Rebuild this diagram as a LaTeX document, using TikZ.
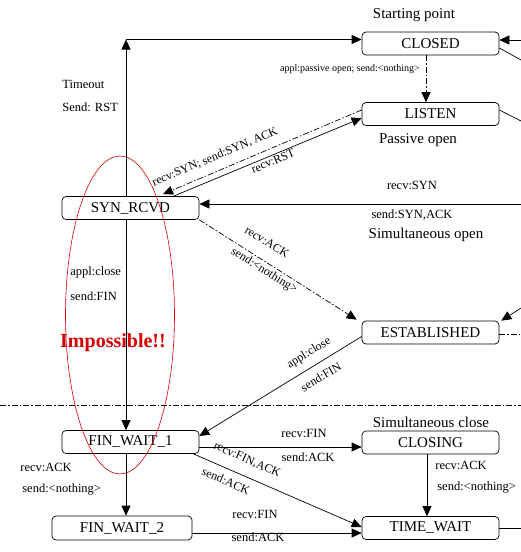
\documentclass[tikz,border=0pt]{standalone}
\usepackage{fontspec}
\setmainfont{Liberation Serif}
\usetikzlibrary{arrows.meta,calc}
\definecolor{impred}{RGB}{215,0,0}
\tikzset{
  state/.style={draw, rounded corners=4pt, minimum width=137pt, minimum height=23pt, inner sep=0pt, font=\fontsize{15}{15}\selectfont},
  lbl/.style={inner sep=0pt, font=\fontsize{12.5}{12.5}\selectfont},
  rlbl/.style={inner sep=0pt, font=\fontsize{12}{12}\selectfont},
  big/.style={inner sep=0pt, font=\fontsize{15}{15}\selectfont},
  arr/.style={-{Triangle[length=10pt,width=9pt]}},
  dd/.style={dash pattern=on 6pt off 2pt on 1.5pt off 2pt},
}
\begin{document}
\begin{tikzpicture}[x=1pt,y=-1pt,line width=0.7pt]
\useasboundingbox (0,0) rectangle (521,552);
\clip (0,0) rectangle (521,552);
% states
\node[state] (closed) at (430.5,43.5) {CLOSED};
\node[state] (listen) at (430.5,114) {LISTEN};
\node[state] (synrcvd) at (130.5,208) {SYN\_RCVD};
\node[state] (established) at (430.5,332.5) {ESTABLISHED};
\node[state] (finwait1) at (130.5,442) {FIN\_WAIT\_1};
\node[state, minimum width=140pt, minimum height=24pt] (finwait2) at (122,528) {FIN\_WAIT\_2};
\node[state] (closing) at (430.5,442.5) {CLOSING};
\node[state] (timewait) at (430.5,528) {TIME\_WAIT};
% helper coordinates
\coordinate (tl) at (126,39.5);
\coordinate (r0) at (521,40);
\coordinate (r1) at (521,60);
\coordinate (r2) at (521,121);
\coordinate (r3) at (521,204);
\coordinate (r4) at (521,308);
\coordinate (r5) at (521,334);
\coordinate (r6) at (521,528);
\coordinate (dl) at (0,405);
\coordinate (dr) at (521,405);
\coordinate (f1a) at ($(finwait1.east)+(0,5)$);
\coordinate (f2a) at ($(finwait2.east)+(0,5)$);
% impossible ellipse
\draw[impred, line width=0.6pt] (120,315) ellipse [x radius=54.5, y radius=159];
% connectors
\draw[arr] (synrcvd.north -| tl) -- (tl);
\draw[arr] (tl) -- (tl -| closed.west);
\draw[arr, dd] ($(closed.south)+(-4.5,0)$) -- ($(listen.north)+(-4.5,0)$);
\draw[arr, dd] ($(listen.west)+(0,-4)$) -- ($(synrcvd.north)+(32.5,-2)$);
\draw[arr] ($(synrcvd.north)+(43,0)$) -- ($(listen.west)+(0,4)$);
\draw[arr] (r3) -- (r3 -| synrcvd.east);
\draw[arr, dd] (synrcvd.south east) -- ($(established.north west)+(-5,-1)$);
\draw[arr] ($(established.west)+(0,4)$) -- ($(finwait1.east)+(0,-6)$);
\draw[arr] (synrcvd.south -| tl) -- (finwait1.north -| tl);
\draw[arr] (finwait1.south -| tl) -- (finwait2.north -| tl);
\draw[arr] (f1a) -- (f1a -| closing.west);
\draw[arr] ($(finwait1.south east)+(-6,0)$) -- ($(timewait.west)+(0,-1)$);
\draw[arr] ($(closing.south)+(-3.5,0)$) -- ($(timewait.north)+(-3.5,0)$);
\draw[arr] (f2a) -- (f2a -| timewait.west);
% right edge stubs
\draw[arr] (r0) -- (r0 -| closed.east);
\draw ($(closed.east)+(0,4.5)$) -- (r1);
\draw ($(listen.east)+(0,-4)$) -- (r2);
\draw[arr] (r4) -- ($(established.north east)+(2,0)$);
\draw[dd] (established.east |- r5) -- (r5);
\draw (timewait.east) -- (r6);
\draw[dd] (dl) -- (dr);
% labels
\node[big] (tsp) at (414,15) {Starting point};
\node[inner sep=0pt, font=\fontsize{10}{10}\selectfont] (tpo) at (350,69) {appl:passive open; send:<nothing>};
\node[big] (tpas) at (418,140) {Passive open};
\node[lbl, anchor=west] (tto) at (62,84) {Timeout};
\node[lbl, anchor=west] (tsr) at (62,107) {Send: RST};
\node[rlbl, rotate=23] (tsyn) at (215,157) {recv:SYN; send:SYN, ACK};
\node[rlbl, rotate=23] (trst) at (273,161) {recv:RST};
\node[lbl] (trs) at (412,185) {recv:SYN};
\node[lbl] (tss) at (412,215) {send:SYN,ACK};
\node[big] (tso) at (426,235) {Simultaneous open};
\node[rlbl, rotate=-32] (tra) at (267,242) {recv:ACK};
\node[rlbl, rotate=-32] (tsn) at (264,271) {send:<nothing>};
\node[rlbl, rotate=31] (tac) at (309,353) {appl:close};
\node[rlbl, rotate=31] (tsf) at (321,377) {send:FIN};
\node[lbl, anchor=west] (tac2) at (70,272) {appl:close};
\node[lbl, anchor=west] (tsf2) at (70,296) {send:FIN};
\node[inner sep=0pt, text=impred, font=\fontsize{20}{20}\selectfont\bfseries] (timp) at (113,343) {Impossible!!};
\node[lbl, anchor=west] (tra2) at (20,467) {recv:ACK};
\node[lbl, anchor=west] (tsn2) at (22,490) {send:<nothing>};
\node[lbl] (trf) at (304,433) {recv:FIN};
\node[lbl] (tsa) at (308,457) {send:ACK};
\node[big] (tsc) at (431,422) {Simultaneous close};
\node[rlbl, rotate=-24] (trfa) at (247,460) {recv:FIN,ACK};
\node[rlbl, rotate=-24] (tsa2) at (226,481) {send:ACK};
\node[lbl, anchor=west] (tra3) at (435,465) {recv:ACK};
\node[lbl, anchor=west] (tsn3) at (437,488) {send:<nothing>};
\node[lbl] (trf2) at (255,514) {recv:FIN};
\node[lbl] (tsa3) at (258,537) {send:ACK};
\node[big] (tmsl) at (450,558) {2MSL timeout};
\end{tikzpicture}
\end{document}
